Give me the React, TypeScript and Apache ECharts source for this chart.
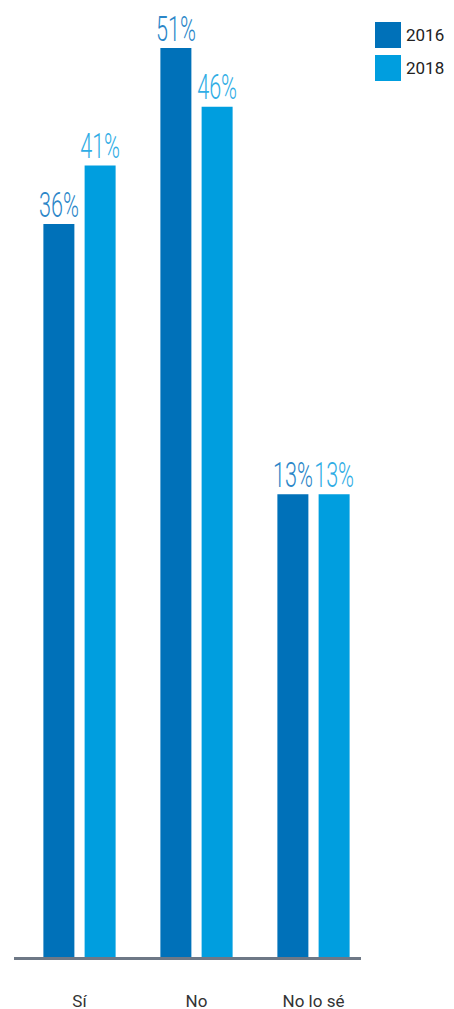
import React, { useEffect, useRef } from "react";
import * as echarts from "echarts";

const categories = ["Sí", "No", "No lo sé"];
const seriesNames = ["2016", "2018"];
const values2016 = [36, 51, 13];
const values2018 = [41, 46, 13];
const barColors = ["#0071B9", "#009EDF"];
const labelColors = ["#2B86C8", "#2FADE5"];

const BAR_W = 31;
const GAP_RATIO = 0.33;

export default function App() {
  const ref = useRef<HTMLDivElement>(null);
  useEffect(() => {
    if (!ref.current) return;
    const chart = echarts.init(ref.current, null, { renderer: "svg" });
    const bar = (i: number, data: number[]) => ({
      name: seriesNames[i],
      type: "bar",
      data,
      barWidth: BAR_W,
      barGap: GAP_RATIO * 100 + "%",
      itemStyle: { color: barColors[i] },
    });
    const labels = (i: number, data: number[]) => ({
      name: seriesNames[i],
      type: "custom",
      data: data.map((v, k) => [k, v]),
      z: 5,
      silent: true,
      renderItem: (params: any, api: any) => {
        const pt = api.coord([api.value(0), api.value(1)]);
        const off = ((i === 0 ? -1 : 1) * BAR_W * (1 + GAP_RATIO)) / 2;
        return {
          type: "text",
          x: pt[0] + off,
          y: pt[1] - 2,
          scaleX: 0.6,
          style: {
            text: api.value(1) + "%",
            fill: labelColors[i],
            font: "300 36px Roboto, 'Liberation Sans', sans-serif",
            align: "center",
            verticalAlign: "bottom",
          },
        };
      },
    });
    chart.setOption({
      animation: false,
      legend: {
        orient: "vertical",
        left: 375,
        top: 22,
        padding: 0,
        itemWidth: 26,
        itemHeight: 26,
        itemGap: 7,
        icon: "rect",
        data: seriesNames,
        textStyle: {
          fontFamily: "Roboto, 'Liberation Sans', sans-serif",
          fontSize: 17,
          color: "#222",
          padding: [10, 0, 0, 0],
        },
      },
      grid: { left: 21, width: 351, top: 1, bottom: 51 },
      xAxis: {
        type: "category",
        data: categories,
        axisLine: { show: false, onZero: false },
        axisTick: { show: false },
        axisLabel: {
          margin: 34,
          fontSize: 17,
          color: "#333",
          fontFamily: "Roboto, 'Liberation Sans', sans-serif",
        },
      },
      yAxis: {
        type: "value",
        min: -26.5,
        max: 55,
        startValue: -26.5,
        show: false,
        splitLine: { show: false },
      },
      graphic: [
        {
          type: "line",
          shape: { x1: 14, y1: 958.5, x2: 361, y2: 958.5 },
          style: { stroke: "#6E7886", lineWidth: 3 },
          z: 10,
        },
      ],
      series: [
        bar(0, values2016),
        bar(1, values2018),
        labels(0, values2016),
        labels(1, values2018),
      ],
    });
    return () => chart.dispose();
  }, []);
  return <div ref={ref} style={{ width: 454, height: 1009, position: "absolute", left: 0, top: 0 }} />;
}
